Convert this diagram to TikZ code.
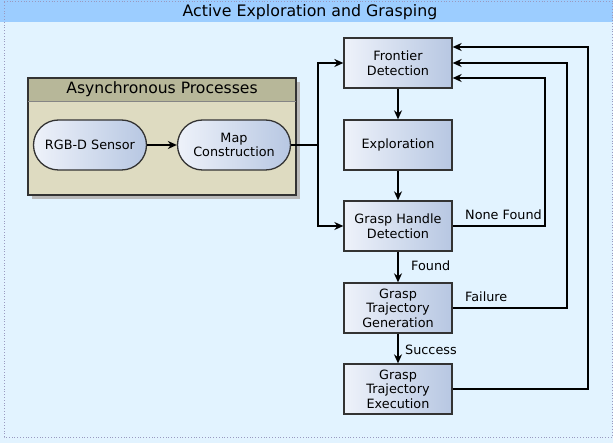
\documentclass[tikz,border=0pt]{standalone}
\usepackage{fontspec}
\setmainfont{DejaVu Sans}
\usetikzlibrary{arrows.meta,positioning,calc}
\definecolor{panelbg}{HTML}{E2F3FF}
\definecolor{titlebar}{HTML}{9CCDFF}
\definecolor{asyncbody}{HTML}{DEDBC1}
\definecolor{asynchead}{HTML}{B7B799}
\definecolor{boxleft}{HTML}{EEF2FA}
\definecolor{boxright}{HTML}{B7C7E2}
\definecolor{edge}{HTML}{333333}
\definecolor{dotline}{HTML}{9A9AC0}
\tikzset{
  x=1pt, y=-1pt,
  flowbox/.style={draw=edge, line width=1.3pt, left color=boxleft, right color=boxright,
    minimum width=108pt, minimum height=50pt, align=center, inner sep=2pt,
    font=\fontsize{12.8}{14.5}\selectfont},
  pill/.style={flowbox, minimum width=113pt, rounded corners=25pt},
  link/.style={draw=black, line width=1.4pt, -{Stealth[length=9pt,width=8pt]}},
  wire/.style={draw=black, line width=1.4pt},
  tag/.style={font=\fontsize{12.8}{14.5}\selectfont, inner sep=0pt}
}
\begin{document}
\begin{tikzpicture}
\useasboundingbox (0,0) rectangle (613,443);
% panel and title bar
\fill[panelbg] (0,0) rectangle (613,443);
\fill[titlebar] (0,0) rectangle (613,22.5);
\draw[dotline, dotted, line width=0.8pt] (4,1) -- (612,1) -- (612,437) -- (4,437) -- cycle;
\node[font=\fontsize{15.8}{17}\selectfont] (title) at (310,12.5) {Active Exploration and Grasping};

% asynchronous group
\fill[gray!55] (32,82) rectangle (300,199);
\fill[asyncbody] (28,78) rectangle (296,195);
\fill[asynchead] (28,78) rectangle (296,101);
\draw[edge, line width=1.1pt] (28,78) rectangle (296,195);
\draw[edge!60, line width=0.6pt] (28,101) -- (296,101);
\node[font=\fontsize{15.6}{17}\selectfont] (async) at (162,89) {Asynchronous Processes};
\node[pill] (rgbd) at (90,145) {RGB-D Sensor};
\node[pill] (map) at (234,145) {Map\\Construction};

% main pipeline
\node[flowbox] (front) at (398,63) {Frontier\\Detection};
\node[flowbox] (explo) at (398,145) {Exploration};
\node[flowbox] (handle) at (398,226) {Grasp Handle\\Detection};
\node[flowbox] (gen) at (398,308) {Grasp\\Trajectory\\Generation};
\node[flowbox] (exec) at (398,389) {Grasp\\Trajectory\\Execution};

\coordinate (split) at (318,145);
\draw[link] (rgbd) -- (map);
\draw[wire] (map.east) -- (split);
\draw[link] (split) |- (front.west);
\draw[link] (split) |- (handle.west);
\draw[link] (front) -- (explo);
\draw[link] (explo) -- (handle);
\draw[link] (handle) -- (gen);
\draw[link] (gen) -- (exec);
\node[tag, anchor=west] (found) at (411,266) {Found};
\node[tag, anchor=west] (success) at (405,350) {Success};

% feedback loops back to frontier detection
\draw[link] (handle.east) -- (545,226) -- (545,78) -- ($(front.east)+(0,15)$);
\draw[link] (gen.east) -- (567,308) -- (567,63) -- (front.east);
\draw[link] (exec.east) -- (588,389) -- (588,47) -- ($(front.east)+(0,-16)$);
\node[tag, anchor=west] (nonefound) at (465,215) {None Found};
\node[tag, anchor=west] (failure) at (465,297) {Failure};
\end{tikzpicture}
\end{document}
